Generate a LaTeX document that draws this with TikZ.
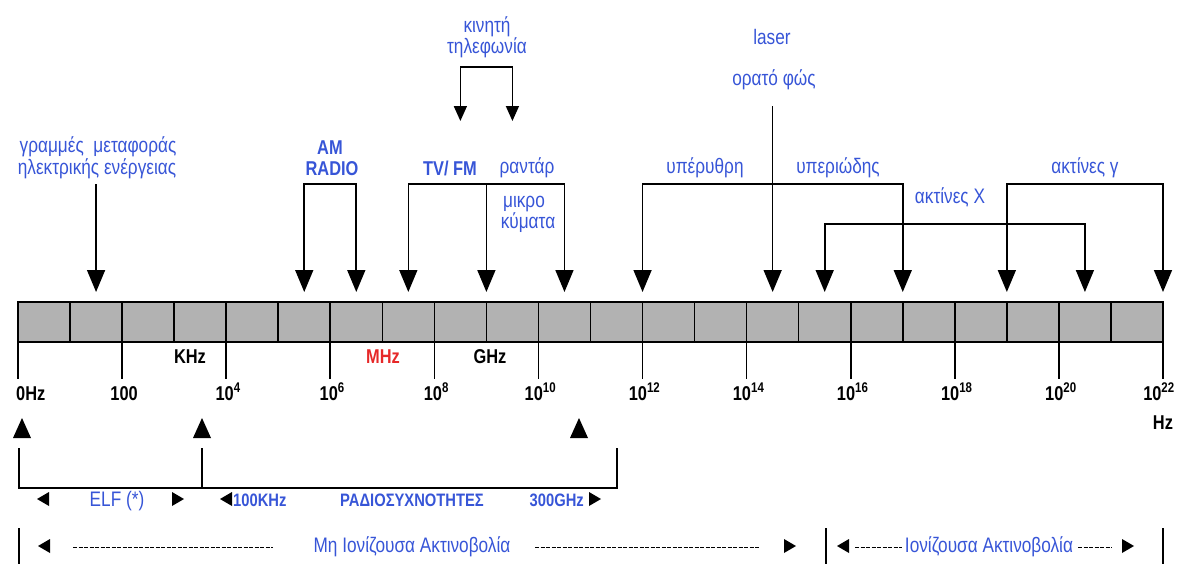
\documentclass[tikz,border=0pt]{standalone}
\usepackage{fontspec}
\setmainfont[FakeStretch=0.82]{Liberation Sans}
\usetikzlibrary{arrows.meta}
\definecolor{lblue}{RGB}{55,85,215}
\definecolor{lred}{RGB}{230,40,40}
\definecolor{barfill}{RGB}{178,178,178}
\def\cw{52.045}
\begin{document}
\begin{tikzpicture}[x=1pt,y=-1pt,
  lbl/.style={text=lblue,font=\fontsize{21}{23}\selectfont,inner sep=0pt,anchor=base},
  lblb/.style={text=lblue,font=\fontsize{20}{22}\selectfont\bfseries,inner sep=0pt,anchor=base},
  rowb/.style={text=lblue,font=\fontsize{18}{20}\selectfont\bfseries,inner sep=0pt,anchor=base},
  num/.style={text=black,font=\fontsize{20}{22}\selectfont\bfseries,inner sep=0pt,anchor=base},
  ln/.style={line width=1.6pt},
  arr/.style={ln,-{Triangle[width=18pt,length=22pt]}},
  arrb/.style={ln,{Triangle[width=18pt,length=22pt]}-{Triangle[width=18pt,length=22pt]}},
  sarrb/.style={ln,{Triangle[width=13pt,length=15pt]}-{Triangle[width=13pt,length=15pt]}},
  hyph/.style={line width=1pt,dash pattern=on 4pt off 1.5pt},
  uptri/.pic={\fill (0,0) -- (9,20) -- (-9,20) -- cycle;},
  ltri/.pic={\fill (-6,0) -- (6,-7) -- (6,7) -- cycle;},
  rtri/.pic={\fill (6,0) -- (-6,-7) -- (-6,7) -- cycle;}
]
\useasboundingbox (0,0) rectangle (1179,570);

% ---- the bar ----
\draw[ln,fill=barfill] (18,302) rectangle (1163,342);
\foreach \k in {1,...,21} \draw[ln] ({18+\k*\cw},302) -- ({18+\k*\cw},342);
\foreach \k in {0,2,...,22} \draw[ln] ({18+\k*\cw},342) -- ({18+\k*\cw},379);

% ---- arrow tips (coordinates) ----
\coordinate (tPow) at ({18+1.5*\cw},292);
\coordinate (tAMa) at ({18+5.5*\cw},292);
\coordinate (tAMb) at ({18+6.5*\cw},292);
\coordinate (tTVa) at ({18+7.5*\cw},292);
\coordinate (tTVb) at ({18+9*\cw},292);
\coordinate (tTVc) at ({18+10.5*\cw},292);
\coordinate (tIR)  at ({18+12*\cw},292);
\coordinate (tLas) at ({18+14.5*\cw},292);
\coordinate (tXa)  at ({18+15.5*\cw},292);
\coordinate (tUV)  at ({18+17*\cw},292);
\coordinate (tGa)  at ({18+19*\cw},292);
\coordinate (tXb)  at ({18+20.5*\cw},292);
\coordinate (tGb)  at ({18+22*\cw},292);
\coordinate (tMa)  at ({18+8.5*\cw},121);
\coordinate (tMb)  at ({18+9.5*\cw},121);

\coordinate (topA) at (0,184);
\coordinate (topX) at (0,224);
\coordinate (topM) at (0,67);
\coordinate (powTop) at ({18+1.5*\cw},184);
\coordinate (lasTop) at ({18+14.5*\cw},106);

% ---- top labels ----
\node[lbl] (pow1) at (98,152) {γραμμές\ \ μεταφοράς};
\node[lbl] (pow2) at (97,174) {ηλεκτρικής ενέργειας};
\node[lblb] (am1) at (330,154) {AM};
\node[lblb] (am2) at (332,175) {RADIO};
\node[lbl] (mob1) at (487,32) {κινητή};
\node[lbl] (mob2) at (487,53) {τηλεφωνία};
\node[lbl] (las1) at (772,45) {laser};
\node[lbl] (las2) at (774,85) {ορατό φώς};
\node[lblb] (tv) at (450,175) {TV/ FM};
\node[lbl] (rad1) at (527,173) {ραντάρ};
\node[lbl] (rad2) at (524,207) {μικρο};
\node[lbl] (rad3) at (528,228) {κύματα};
\node[lbl] (ir) at (705,173) {υπέρυθρη};
\node[lbl] (uv) at (838,173) {υπεριώδης};
\node[lbl] (xr) at (950,203) {ακτίνες Χ};
\node[lbl] (gr) at (1085,173) {ακτίνες γ};

% ---- connectors ----
\draw[arr] (powTop) -- (tPow);
\draw[arrb] (tAMa) -- (tAMa|-topA) -- (tAMb|-topA) -- (tAMb);
\draw[sarrb] (tMa) -- (tMa|-topM) -- (tMb|-topM) -- (tMb);
\draw[arrb] (tTVa) -- (tTVa|-topA) -- (tTVc|-topA) -- (tTVc);
\draw[arr] (tTVb|-topA) -- (tTVb);
\draw[arrb] (tIR) -- (tIR|-topA) -- (tUV|-topA) -- (tUV);
\draw[arr] (lasTop) -- (tLas);
\draw[arrb] (tXa) -- (tXa|-topX) -- (tXb|-topX) -- (tXb);
\draw[arrb] (tGa) -- (tGa|-topA) -- (tGb|-topA) -- (tGb);

% ---- scale labels ----
\node[num] (khz) at (190,363) {KHz};
\node[num,text=lred] (mhz) at (383,363) {MHz};
\node[num] (ghz) at (490,363) {GHz};
\node[num,anchor=base west] (l0) at (16,400) {0Hz};
\node[num] (l2) at ({20+2*\cw},400) {100};
\node[num] (l4) at ({20+4*\cw},400) {10\textsuperscript{4}};
\node[num] (l6) at ({20+6*\cw},400) {10\textsuperscript{6}};
\node[num] (l8) at ({20+8*\cw},400) {10\textsuperscript{8}};
\node[num] (l10) at ({20+10*\cw},400) {10\textsuperscript{10}};
\node[num] (l12) at ({20+12*\cw},400) {10\textsuperscript{12}};
\node[num] (l14) at ({20+14*\cw},400) {10\textsuperscript{14}};
\node[num] (l16) at ({20+16*\cw},400) {10\textsuperscript{16}};
\node[num] (l18) at ({20+18*\cw},400) {10\textsuperscript{18}};
\node[num] (l20) at ({20+20*\cw},400) {10\textsuperscript{20}};
\node[num] (l22) at (1159,400) {10\textsuperscript{22}};
\node[num] (hz) at (1163,429) {Hz};

% ---- lower part ----
\pic at (22,418) {uptri};
\pic at (202,418) {uptri};
\pic at (579,418) {uptri};
\coordinate (b1) at (19,448);
\coordinate (b2) at (202,448);
\coordinate (b3) at (617,448);
\coordinate (bb) at (0,488);
\draw[ln] (b1) -- (b1|-bb) -- (b3|-bb) -- (b3);
\draw[ln] (b2) -- (b2|-bb);

\pic at (43,499) {ltri};
\node[lbl] (elf) at (117,506) {ELF (*)};
\pic at (178,499) {rtri};
\pic at (226,499) {ltri};
\node[rowb,anchor=base west] (k100) at (233,506) {100KHz};
\node[rowb] (radio) at (412,506) {ΡΑΔΙΟΣΥΧΝΟΤΗΤΕΣ};
\node[rowb,anchor=base east] (g300) at (584,506) {300GHz};
\pic at (595,499) {rtri};

\draw[ln] (19,528) -- (19,564);
\draw[ln] (826,528) -- (826,564);
\draw[ln] (1163,528) -- (1163,564);
\pic at (44,546) {ltri};
\draw[hyph] (73,547) -- (273,547);
\node[lbl] (nonion) at (412,552) {Μη Ιονίζουσα Ακτινοβολία};
\draw[hyph] (535,547) -- (760,547);
\pic at (790,546) {rtri};
\pic at (843,546) {ltri};
\draw[hyph] (855,547) -- (902,547);
\node[lbl] (ion) at (989,552) {Ιονίζουσα Ακτινοβολία};
\draw[hyph] (1078,547) -- (1112,547);
\pic at (1128,546) {rtri};
\end{tikzpicture}
\end{document}
